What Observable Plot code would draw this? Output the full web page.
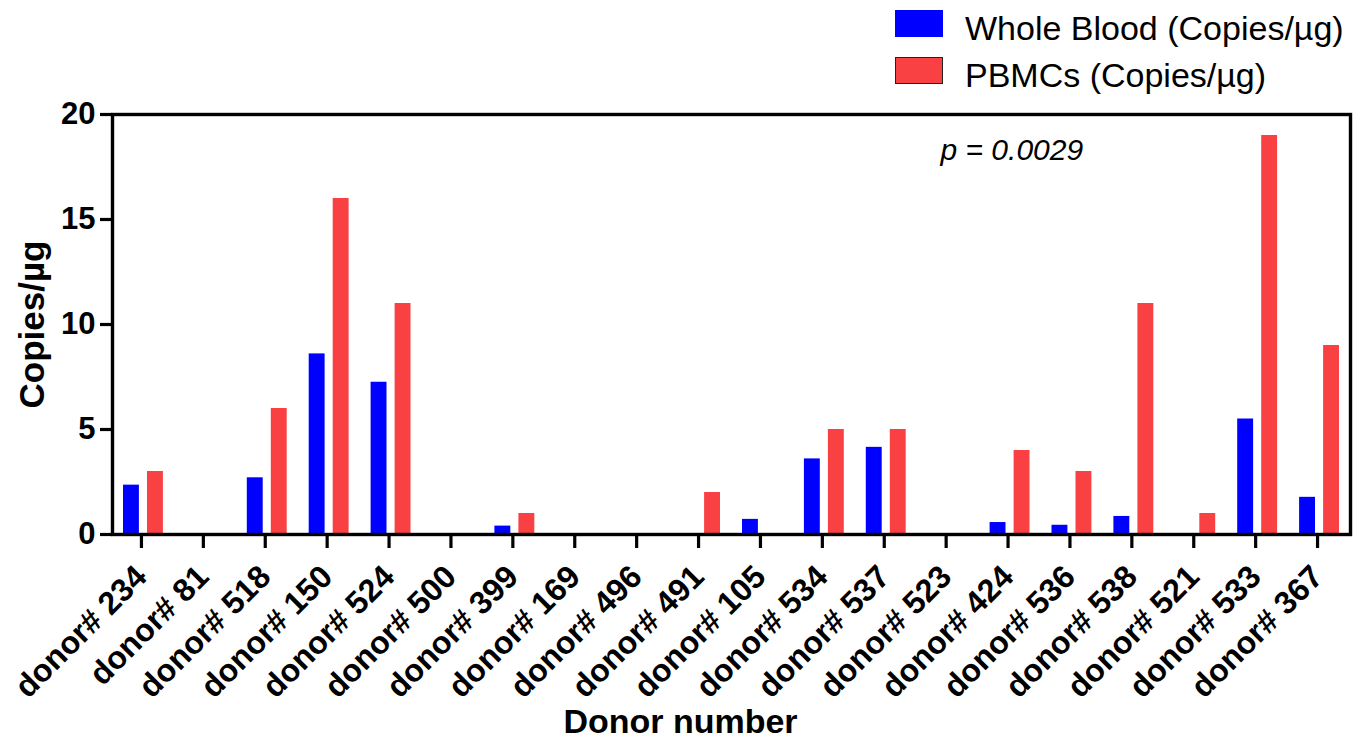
<!DOCTYPE html>
<html><head><meta charset="utf-8">
<script src="https://cdn.jsdelivr.net/npm/d3@7"></script>
<script src="https://cdn.jsdelivr.net/npm/@observablehq/plot@0.6"></script>
<style>
body{margin:0;background:#fff;}
#wrap{position:relative;width:1353px;height:741px;}
.legend{position:absolute;left:895px;top:0px;font-family:"Liberation Sans",Arial,sans-serif;font-size:34px;color:#000;}
.item{display:flex;align-items:center;height:47px;}
.sw{width:48px;height:27px;margin-right:22px;box-sizing:border-box;}
.item span{position:relative;top:5px;}
</style></head><body><div id="wrap"></div>
<script>
const donors = ["donor# 234","donor# 81","donor# 518","donor# 150","donor# 524","donor# 500","donor# 399","donor# 169","donor# 496","donor# 491","donor# 105","donor# 534","donor# 537","donor# 523","donor# 424","donor# 536","donor# 538","donor# 521","donor# 533","donor# 367"];
const wholeBlood = [2.35,0,2.7,8.6,7.25,0,0.4,0,0,0,0.72,3.6,4.15,0,0.57,0.44,0.86,0,5.5,1.77];
const pbmc = [3,0,6,16,11,0,1,0,0,2,0,5,5,0,4,3,11,1,19,9];
const series = ["Whole Blood (Copies/µg)","PBMCs (Copies/µg)"];
const colors = ["#0000ff","#f94144"];
const yTicks = [0,5,10,15,20];
const yTitle = "Copies/µg";
const xTitle = "Donor number";
const pLabel = "p = 0.0029";

const rows = donors.map((d,i)=>({donor:d, wb:wholeBlood[i], pb:pbmc[i]}));
const font = "Liberation Sans, Arial, sans-serif";

const chart = Plot.plot({
  width:1353, height:741,
  marginLeft:112, marginRight:3, marginTop:114, marginBottom:207,
  style:{fontFamily:font, background:"white", overflow:"visible", color:"black"},
  x:{domain:donors, padding:0, round:false, label:null},
  y:{domain:[0,20], label:null},
  marks:[
    Plot.barY(rows,{x:"donor", y:"wb", fill:colors[0], insetLeft:11, insetRight:35}),
    Plot.barY(rows,{x:"donor", y:"pb", fill:colors[1], insetLeft:35, insetRight:11}),
    Plot.axisY({ticks:yTicks, tickSize:12, tickPadding:5, fontSize:31, fontWeight:"bold", strokeWidth:3.2, label:null}),
    Plot.axisX({tickSize:14, tickPadding:23, dx:-2, tickRotate:-45, fontSize:32, fontWeight:"bold", strokeWidth:3.2, label:null}),
    Plot.frame({strokeWidth:3.4}),
    Plot.text([yTitle],{frameAnchor:"left", dx:-80, rotate:-90, fontSize:35, fontWeight:"bold", textAnchor:"middle", lineAnchor:"middle"}),
    Plot.text([xTitle],{frameAnchor:"bottom", dx:-51, dy:188, fontSize:34, fontWeight:"bold", textAnchor:"middle", lineAnchor:"middle"}),
    Plot.text([pLabel],{frameAnchor:"top-left", dx:828, dy:36, fontSize:30, fontStyle:"italic", textAnchor:"start", lineAnchor:"middle"})
  ]
});
const wrap = document.getElementById("wrap");
wrap.appendChild(chart);
const leg = document.createElement("div");
leg.className = "legend";
series.forEach((s,i)=>{
  const it = document.createElement("div"); it.className="item";
  const sw = document.createElement("div"); sw.className="sw"; sw.style.background=colors[i];
  if(i===1) sw.style.border="1.5px solid #222";
  const t = document.createElement("span"); t.textContent = s;
  it.appendChild(sw); it.appendChild(t); leg.appendChild(it);
});
wrap.appendChild(leg);
</script></body></html>
